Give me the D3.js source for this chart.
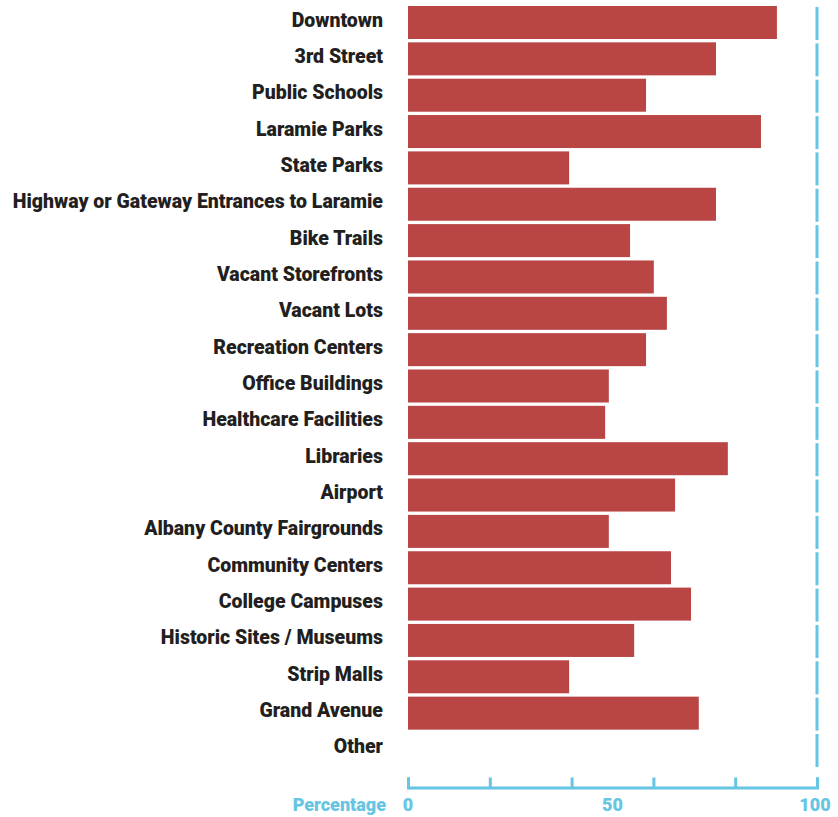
<!DOCTYPE html>
<html>
<head>
<meta charset="utf-8">
<script src="https://cdn.jsdelivr.net/npm/d3@7"></script>
<style>
  html, body { margin: 0; padding: 0; background: #ffffff; }
  svg { display: block; }
  text { font-family: Roboto, "Noto Sans", sans-serif; font-weight: 900; }
</style>
</head>
<body>
<script>
const categories = [
  "Downtown", "3rd Street", "Public Schools", "Laramie Parks", "State Parks",
  "Highway or Gateway Entrances to Laramie", "Bike Trails", "Vacant Storefronts",
  "Vacant Lots", "Recreation Centers", "Office Buildings", "Healthcare Facilities",
  "Libraries", "Airport", "Albany County Fairgrounds", "Community Centers",
  "College Campuses", "Historic Sites / Museums", "Strip Malls", "Grand Avenue", "Other"
];
const values = [
  90.2, 75.3, 58.2, 86.3, 39.4,
  75.3, 54.3, 60.1,
  63.3, 58.2, 49.1, 48.2,
  78.2, 65.3, 49.1, 64.3,
  69.2, 55.3, 39.4, 71.1, 0
];
const tickValues = [0, 20, 40, 60, 80, 100];
const tickLabels = [0, 50, 100];
const axisTitle = "Percentage";

const W = 838, H = 817;
const barColor = "#b94545";
const blue = "#66c5e3";
const labelColor = "#231f20";

const svg = d3.select("body").append("svg").attr("width", W).attr("height", H);

const x = d3.scaleLinear().domain([0, 100]).range([408, 817]);
const y = d3.scaleBand().domain(categories).range([6, 766]).paddingInner(0.092).paddingOuter(0);

// bars
svg.append("g").selectAll("rect").data(categories).join("rect")
  .attr("x", x(0))
  .attr("y", d => y(d))
  .attr("width", (d, i) => x(values[i]) - x(0))
  .attr("height", y.bandwidth())
  .attr("fill", barColor);

// right-side segmented blue line
svg.append("g").selectAll("rect").data(categories).join("rect")
  .attr("x", x(100) - 1.5)
  .attr("y", d => y(d) + 1)
  .attr("width", 3)
  .attr("height", y.bandwidth())
  .attr("fill", blue);

// category labels
svg.append("g").selectAll("text").data(categories).join("text")
  .attr("x", 383)
  .attr("y", d => y(d) + y.bandwidth() / 2 + 4)
  .attr("text-anchor", "end")
  .attr("fill", labelColor)
  .attr("font-size", 19.5)
  .text(d => d);

// bottom axis
const axisY = 787.5;
const gAxis = svg.append("g").attr("transform", `translate(0,${axisY})`)
  .call(d3.axisBottom(x).tickValues(tickValues).tickSize(-10).tickSizeOuter(-10).tickFormat(""));
gAxis.selectAll("path, line").attr("stroke", blue).attr("stroke-width", 3);

svg.append("g").selectAll("text").data(tickLabels).join("text")
  .attr("x", d => d === 100 ? x(d) - 2 : x(d))
  .attr("y", 811)
  .attr("text-anchor", "middle")
  .attr("fill", blue)
  .attr("font-size", 18)
  .text(d => d);

svg.append("text")
  .attr("x", 386)
  .attr("y", 811)
  .attr("text-anchor", "end")
  .attr("fill", blue)
  .attr("font-size", 18)
  .text(axisTitle);
</script>
</body>
</html>
